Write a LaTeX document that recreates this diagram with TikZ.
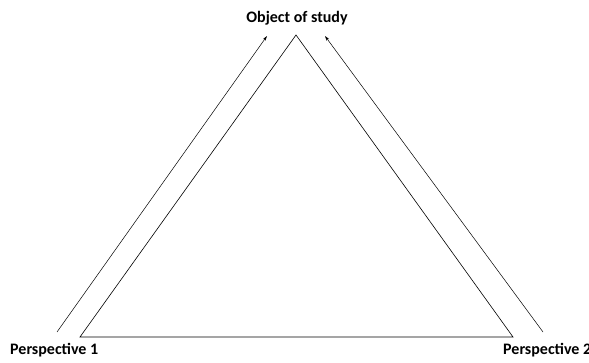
\documentclass[tikz,border=0pt]{standalone}
\usepackage{fontspec}
\setmainfont{Carlito}
\usetikzlibrary{arrows.meta,positioning}
\tikzset{
  cornerlabel/.style={font=\bfseries\fontsize{16}{18}\selectfont, inner sep=0pt},
  sidearr/.style={-{Stealth[length=5pt,width=3pt]}, line width=0.5pt},
  triline/.style={line width=0.6pt, line join=miter},
}

\begin{document}
\begin{tikzpicture}[x=1pt,y=-1pt]
  \useasboundingbox (0,0) rectangle (589,363);

  % corners of the triangle
  \coordinate (apex)  at (296,35);
  \coordinate (bleft) at (80,337);
  \coordinate (bright) at (513,337);
  \draw[triline] (apex) -- (bleft) -- (bright) -- cycle;

  % the two perspectives pointing up
  \coordinate (lstart) at (57,332);
  \coordinate (lend)   at (267,36);
  \coordinate (rstart) at (543,332);
  \coordinate (rend)   at (325,36);
  \draw[sidearr] (lstart) -- (lend);
  \draw[sidearr] (rstart) -- (rend);

  \node[cornerlabel, anchor=base] (obj)  at (297,23) {Object of study};
  \node[cornerlabel, anchor=base west] (per1) at (10,354) {Perspective 1};
  \node[cornerlabel, anchor=base west] (per2) at (503,354) {Perspective 2};
\end{tikzpicture}
\end{document}
